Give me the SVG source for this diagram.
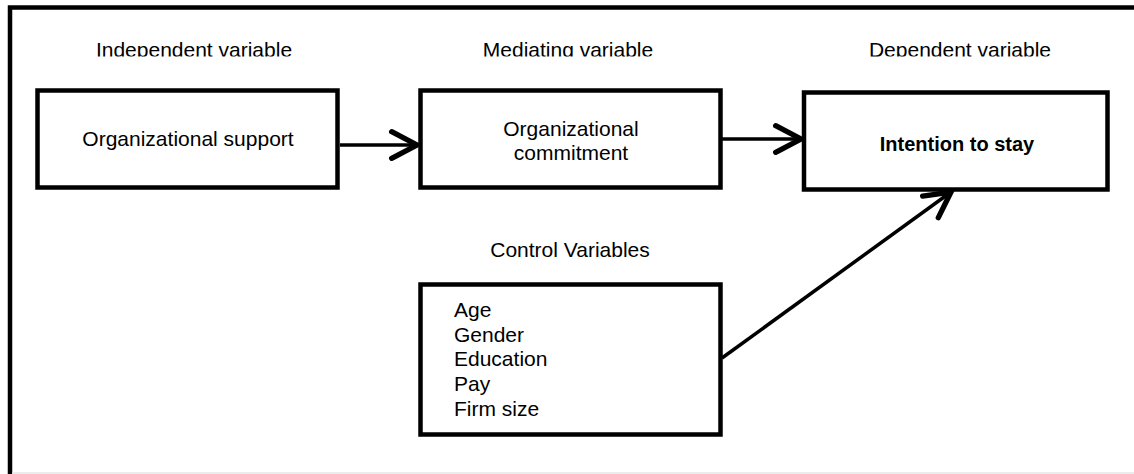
<svg xmlns="http://www.w3.org/2000/svg" width="1134" height="474" viewBox="0 0 1134 474">
<style>
.box{fill:#fff;stroke:#000;stroke-width:4.5;stroke-linejoin:miter}
.t{font-family:"Liberation Sans",Arial,sans-serif;font-size:21px;fill:#000}
.c{text-anchor:middle}
.b{font-weight:bold;font-size:20px}
.conn{stroke:#000;stroke-width:3.5;fill:none}
</style>
<defs>
<marker id="arr" markerUnits="userSpaceOnUse" markerWidth="40" markerHeight="40" viewBox="-25 -15 30 30" refX="0" refY="0" orient="auto" overflow="visible">
<path d="M -19 -10 L 0 0 L -19 10" fill="none" stroke="#000" stroke-width="4" stroke-linecap="round" stroke-linejoin="miter"/>
</marker>
<clipPath id="hdr"><rect x="0" y="0" width="1134" height="56.5"/></clipPath>
</defs>
<rect x="0" y="0" width="1134" height="474" fill="#fff"/>
<g id="frame">
<path d="M 10 474 L 10 7.5 L 1134 7.5" fill="none" stroke="#000" stroke-width="4.5"/>
<line x1="12" y1="473" x2="1134" y2="473" stroke="#e6e6e6" stroke-width="1.5"/>
</g>
<g id="headers" clip-path="url(#hdr)">
<text class="t c" x="194" y="57">Independent variable</text>
<text class="t c" x="568" y="57">Mediating variable</text>
<text class="t c" x="960" y="57">Dependent variable</text>
</g>
<g id="connectors">
<line class="conn" x1="340" y1="145" x2="417" y2="145" marker-end="url(#arr)"/>
<line class="conn" x1="722" y1="139" x2="801" y2="139" marker-end="url(#arr)"/>
<line class="conn" x1="722" y1="358" x2="951" y2="192" marker-end="url(#arr)"/>
</g>
<g id="node-support">
<rect class="box" x="37.5" y="90.5" width="300" height="97"/>
<text class="t c" x="188" y="146">Organizational support</text>
</g>
<g id="node-commitment">
<rect class="box" x="420.5" y="90.5" width="300" height="97"/>
<text class="t c" x="571" y="136">Organizational</text>
<text class="t c" x="571" y="160">commitment</text>
</g>
<g id="node-intention">
<rect class="box" x="804" y="92.5" width="303.5" height="97"/>
<text class="t c b" x="957" y="151">Intention to stay</text>
</g>
<g id="node-control">
<text class="t c" x="570" y="257">Control Variables</text>
<rect class="box" x="420.5" y="284.5" width="300" height="150"/>
<text class="t" x="454" y="317">Age</text>
<text class="t" x="454" y="342">Gender</text>
<text class="t" x="454" y="366">Education</text>
<text class="t" x="454" y="391">Pay</text>
<text class="t" x="454" y="416">Firm size</text>
</g>
</svg>
